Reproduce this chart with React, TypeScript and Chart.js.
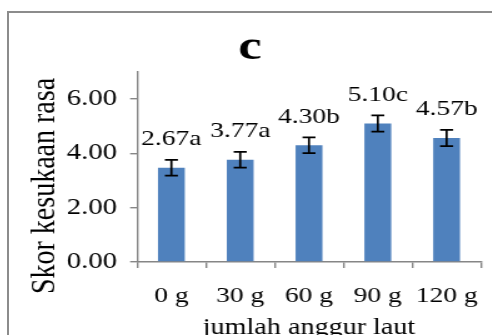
import { useEffect, useRef } from "react";
import { Chart, registerables } from "chart.js";

Chart.register(...registerables);

// ---- data ----
const categories = ["0 g", "30 g", "60 g", "90 g", "120 g"];
const values = [3.47, 3.77, 4.3, 5.1, 4.57];
const errors = [0.29, 0.29, 0.29, 0.3, 0.3];
const valueLabels = ["2.67a", "3.77a", "4.30b", "5.10c", "4.57b"];
const yTicks = [0, 2, 4, 6];
const yMin = 0;
const yMax = 7;
const titleText = "c";
const yTitle = "Skor kesukaan rasa";
const xTitle = "jumlah anggur laut";

// ---- style ----
const SX = 1.25;
const CW = 392;
const CH = 340;
const FONT = "'Liberation Serif', 'Times New Roman', serif";
const AXIS = "#868686";
const BAR = "#4F81BD";

export default function App() {
  const ref = useRef<HTMLCanvasElement>(null);

  useEffect(() => {
    const canvas = ref.current!;
    const errorAndLabels = {
      id: "errorAndLabels",
      afterDatasetsDraw(chart: any) {
        const ctx = chart.ctx;
        const meta = chart.getDatasetMeta(0);
        const ys = chart.scales.y;
        ctx.save();
        meta.data.forEach((bar: any, i: number) => {
          const x = bar.x;
          const top = ys.getPixelForValue(values[i] + errors[i]);
          const bot = ys.getPixelForValue(values[i] - errors[i]);
          const cap = 5.2;
          ctx.strokeStyle = "#000";
          ctx.lineWidth = 1.7;
          ctx.beginPath();
          ctx.moveTo(x, top);
          ctx.lineTo(x, bot);
          ctx.moveTo(x - cap, top);
          ctx.lineTo(x + cap, top);
          ctx.moveTo(x - cap, bot);
          ctx.lineTo(x + cap, bot);
          ctx.stroke();
          ctx.fillStyle = "#000";
          ctx.font = `22px ${FONT}`;
          ctx.textAlign = "center";
          ctx.textBaseline = "alphabetic";
          ctx.fillText(valueLabels[i], x, top - 14.5);
        });
        ctx.restore();
      },
      afterDraw(chart: any) {
        const ctx = chart.ctx;
        const ys = chart.scales.y;
        ctx.save();
        ctx.translate(ys.left + 20.8, chart.chartArea.bottom - 76);
        ctx.rotate(-Math.PI / 2);
        ctx.fillStyle = "#000";
        ctx.font = `28px ${FONT}`;
        ctx.textAlign = "center";
        ctx.textBaseline = "middle";
        ctx.fillText(yTitle, 0, 0);
        ctx.restore();
      },
    };

    const chart = new Chart(canvas, {
      type: "bar",
      data: {
        labels: categories,
        datasets: [
          {
            data: values,
            backgroundColor: BAR,
            borderWidth: 0,
            categoryPercentage: 1,
            barPercentage: 0.39,
          },
        ],
      },
      options: {
        animation: false,
        responsive: false,
        maintainAspectRatio: false,
        layout: { padding: { left: 8.8, right: 13.6, top: 0, bottom: 0 } },
        plugins: {
          legend: { display: false },
          tooltip: { enabled: false },
          title: {
            display: true,
            text: titleText,
            color: "#000",
            font: { family: FONT, size: 42, weight: "bold", lineHeight: 1 },
            padding: { top: 14, bottom: 3 },
          },
        },
        scales: {
          x: {
            type: "category",
            grid: {
              offset: true,
              drawOnChartArea: false,
              drawTicks: true,
              tickLength: 6,
              color: AXIS,
              lineWidth: 1.4,
            },
            border: { display: true, color: AXIS, width: 1.4 },
            ticks: {
              color: "#000",
              font: { family: FONT, size: 22, lineHeight: 2 },
              padding: 6,
              maxRotation: 0,
              autoSkip: false,
            },
            title: {
              display: true,
              text: xTitle,
              color: "#000",
              font: { family: FONT, size: 22.5 },
              padding: { top: 0, bottom: 11.5 },
            },
            afterFit(scale: any) {
              scale.height = 91;
            },
          },
          y: {
            min: yMin,
            max: yMax,
            grid: {
              drawOnChartArea: false,
              drawTicks: true,
              tickLength: 5.5,
              color: AXIS,
              lineWidth: 1.4,
            },
            border: { display: true, color: AXIS, width: 1.4 },
            ticks: {
              color: "#000",
              font: { family: FONT, size: 23 },
              padding: 10.5,
              callback: (v: any) => Number(v).toFixed(2),
            },
            afterBuildTicks(scale: any) {
              scale.ticks = yTicks.map((v) => ({ value: v }));
            },
            title: { display: false },
            afterFit(scale: any) {
              scale.width = 94.4;
            },
          },
        },
      },
      plugins: [errorAndLabels],
    } as any);

    return () => chart.destroy();
  }, []);

  return (
    <div
      style={{
        position: "fixed",
        left: 0,
        top: 0,
        width: 492,
        height: 335,
        overflow: "hidden",
        background: "#fff",
      }}
    >
      <div
        style={{
          position: "absolute",
          left: 7,
          top: 11,
          width: 600,
          height: 400,
          border: "2px solid #8c8c8c",
          boxSizing: "border-box",
        }}
      />
      <div
        style={{
          position: "absolute",
          left: 8,
          top: 13,
          width: CW,
          height: CH,
          transform: `scaleX(${SX})`,
          transformOrigin: "0 0",
        }}
      >
        <canvas ref={ref} width={CW} height={CH} style={{ display: "block" }} />
      </div>
    </div>
  );
}
